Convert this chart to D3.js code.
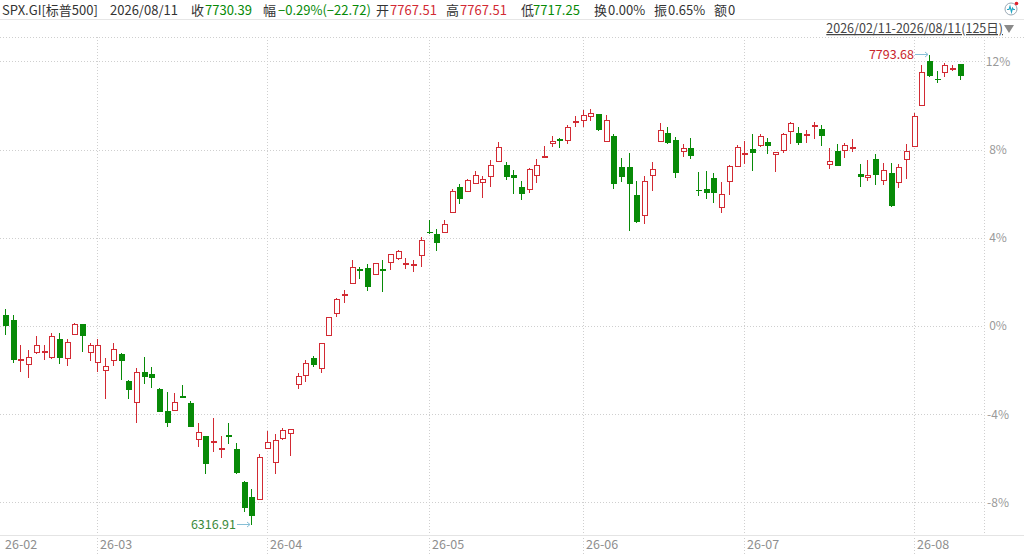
<!DOCTYPE html>
<html>
<head>
<meta charset="utf-8">
<script src="https://cdn.jsdelivr.net/npm/d3@7/dist/d3.min.js"></script>
<style>
  body { margin: 0; background: #fff; }
  text { font-family: "Microsoft YaHei", "Noto Sans CJK SC", sans-serif; }
</style>
</head>
<body>
<div id="chart"></div>
<script>
let width = 1024;
let height = 554;

// trading days per month (2026)
const febDays = [11, 12, 13, 17, 18, 19, 20, 23, 24, 25, 26, 27];
const marDays = [2, 3, 4, 5, 6, 9, 10, 11, 12, 13, 16, 17, 18, 19, 20, 23, 24, 25, 26, 27, 30, 31];
const aprDays = [1, 2, 6, 7, 8, 9, 10, 13, 14, 15, 16, 17, 20, 21, 22, 23, 24, 27, 28, 29, 30];
const mayDays = [1, 4, 5, 6, 7, 8, 11, 12, 13, 14, 15, 18, 19, 20, 21, 22, 26, 27, 28, 29];
const junDays = [1, 2, 3, 4, 5, 8, 9, 10, 11, 12, 15, 16, 17, 18, 22, 23, 24, 25, 26, 29, 30];
const julDays = [1, 2, 6, 7, 8, 9, 10, 13, 14, 15, 16, 17, 20, 21, 22, 23, 24, 27, 28, 29, 30, 31];
const augDays = [3, 4, 5, 6, 7, 10, 11];

const monthLabels = ["26-02", "26-03", "26-04", "26-05", "26-06", "26-07", "26-08"];
const pctTicks = [-8, -4, 0, 4, 8, 12];
const basePrice = 6942;

const opens = [6976.63, 6960.89, 6836.53, 6822.36, 6859.20, 6861.72, 6843.46, 6901.07, 6840.31, 6916.81,
  6947.35, 6859.20, 6827.72, 6803.47, 6832.75, 6852.90, 6769.79, 6701.79, 6798.12, 6790.88,
  6742.71, 6674.39, 6675.34, 6721.62, 6698.64, 6585.30, 6595.69, 6576.80, 6554.76, 6598.84,
  6554.76, 6451.81, 6402.70, 6396.40, 6556.96, 6512.89, 6588.45, 6604.19, 6758.45, 6787.73,
  6841.25, 6808.83, 6911.46, 6981.98, 7041.17, 7076.43, 7120.51, 7123.66, 7105.71, 7121.45,
  7141.29, 7155.14, 7138.77, 7135.62, 7165.53, 7237.94, 7230.70, 7236.98, 7299.96, 7378.67,
  7367.02, 7391.26, 7394.41, 7414.25, 7459.27, 7448.88, 7417.39, 7378.67, 7372.37, 7415.19,
  7474.06, 7515.94, 7530.73, 7525.38, 7584.25, 7588.35, 7600.94, 7608.50, 7522.23, 7541.12,
  7443.52, 7443.52, 7354.43, 7291.46, 7415.19, 7522.23, 7550.57, 7527.58, 7492.95, 7503.34,
  7369.22, 7373.32, 7408.89, 7315.70, 7397.56, 7443.52, 7485.08, 7499.25, 7509.64, 7521.29,
  7482.56, 7493.90, 7553.71, 7550.57, 7543.33, 7571.66, 7562.22, 7451.08, 7492.95, 7495.16,
  7502.40, 7421.49, 7410.15, 7468.71, 7399.45, 7422.75, 7394.41, 7466.82, 7508.69, 7635.57,
  7777.24, 7718.69, 7740.72, 7751.20, 7767.51];
const highs = [6994.58, 6976.63, 6882.18, 6866.44, 6910.52, 6882.18, 6919.02, 6919.02, 6901.07, 6952.39,
  6948.30, 6887.53, 6902.02, 6840.31, 6887.53, 6856.05, 6771.99, 6808.83, 6845.35, 6813.86,
  6745.86, 6735.16, 6730.12, 6756.25, 6705.88, 6635.67, 6597.10, 6653.30, 6595.69, 6635.67,
  6572.70, 6452.50, 6427.88, 6539.02, 6611.43, 6601.04, 6619.93, 6618.10, 6794.97, 6836.53,
  6847.55, 6889.42, 6971.28, 7029.21, 7055.34, 7149.79, 7126.81, 7137.19, 7141.29, 7149.79,
  7168.68, 7181.27, 7155.14, 7149.79, 7221.25, 7275.72, 7246.44, 7275.72, 7372.37, 7388.11,
  7404.80, 7429.99, 7414.25, 7464.62, 7520.34, 7459.27, 7433.13, 7398.50, 7438.49, 7467.77,
  7509.64, 7541.12, 7532.92, 7574.81, 7604.09, 7622.03, 7624.24, 7609.80, 7606.29, 7545.53,
  7471.86, 7485.71, 7399.45, 7415.19, 7459.27, 7582.05, 7569.46, 7537.97, 7514.99, 7532.92,
  7426.84, 7430.93, 7424.63, 7394.41, 7448.88, 7511.84, 7524.44, 7545.53, 7546.47, 7534.82,
  7489.00, 7550.57, 7583.31, 7567.57, 7559.07, 7585.20, 7574.81, 7501.45, 7514.05, 7519.08,
  7529.79, 7451.08, 7464.62, 7482.56, 7456.12, 7454.23, 7452.02, 7514.05, 7611.64, 7763.71,
  7793.68, 7745.76, 7770.95, 7764.80, 7767.51];
const lows = [6913.67, 6825.51, 6797.18, 6777.34, 6852.90, 6834.96, 6838.11, 6822.36, 6817.01, 6915.40,
  6861.09, 6832.75, 6798.12, 6712.17, 6816.07, 6771.99, 6712.17, 6637.56, 6759.40, 6745.86,
  6670.50, 6624.97, 6674.10, 6714.38, 6623.08, 6562.00, 6475.11, 6546.26, 6527.37, 6570.50,
  6476.05, 6355.47, 6316.91, 6393.50, 6555.20, 6476.05, 6583.09, 6533.67, 6742.71, 6766.64,
  6813.86, 6793.09, 6910.52, 6969.39, 7013.47, 7075.20, 7089.03, 7053.13, 7104.50, 7048.10,
  7118.30, 7149.79, 7120.51, 7112.95, 7128.69, 7233.22, 7178.12, 7235.50, 7298.40, 7325.15,
  7365.50, 7389.06, 7344.04, 7380.56, 7457.60, 7401.65, 7357.58, 7338.69, 7361.67, 7393.15,
  7469.97, 7506.49, 7503.34, 7514.05, 7567.57, 7569.46, 7587.40, 7556.86, 7520.80, 7372.37,
  7396.30, 7242.03, 7267.85, 7262.18, 7367.02, 7520.80, 7515.90, 7407.00, 7475.01, 7466.82,
  7351.28, 7340.89, 7328.30, 7298.70, 7354.43, 7442.10, 7452.02, 7430.93, 7506.49, 7482.56,
  7425.89, 7487.60, 7514.05, 7511.84, 7517.19, 7530.73, 7508.69, 7436.28, 7445.20, 7471.86,
  7490.75, 7380.56, 7399.45, 7385.91, 7385.91, 7317.59, 7375.52, 7403.86, 7507.20, 7634.00,
  7726.50, 7706.09, 7724.98, 7744.10, 7717.25];
const closes = [6942.00, 6834.96, 6838.11, 6843.46, 6879.98, 6863.29, 6910.52, 6840.31, 6890.68, 6948.30,
  6910.52, 6881.24, 6881.24, 6816.07, 6868.64, 6832.75, 6740.51, 6796.23, 6782.38, 6779.23,
  6672.19, 6635.67, 6700.53, 6716.27, 6624.97, 6607.34, 6506.59, 6578.37, 6556.33, 6593.48,
  6478.26, 6368.06, 6344.77, 6528.63, 6574.59, 6583.09, 6614.58, 6616.78, 6782.38, 6824.57,
  6819.22, 6887.53, 6969.39, 7026.06, 7042.75, 7126.81, 7114.21, 7065.73, 7139.40, 7114.21,
  7167.73, 7178.12, 7140.34, 7137.19, 7210.55, 7235.74, 7204.25, 7262.18, 7367.02, 7341.83,
  7401.65, 7417.39, 7403.86, 7448.88, 7504.60, 7412.04, 7408.89, 7357.58, 7436.28, 7448.88,
  7475.64, 7522.23, 7524.44, 7567.57, 7585.83, 7604.09, 7611.64, 7559.07, 7590.55, 7388.11,
  7410.15, 7389.06, 7270.37, 7398.50, 7435.34, 7559.07, 7517.19, 7424.63, 7501.45, 7478.16,
  7367.65, 7361.67, 7361.67, 7356.63, 7445.73, 7504.60, 7486.66, 7487.60, 7540.18, 7509.64,
  7487.60, 7546.47, 7580.16, 7519.08, 7544.90, 7573.23, 7540.18, 7459.27, 7446.67, 7511.84,
  7503.97, 7412.04, 7416.45, 7416.45, 7430.93, 7320.74, 7441.64, 7492.95, 7603.14, 7740.72,
  7729.08, 7716.48, 7763.71, 7753.11, 7730.39];

const pad = n => (n < 10 ? "0" : "") + n;
const monthDays = [["02", febDays], ["03", marDays], ["04", aprDays], ["05", mayDays],
  ["06", junDays], ["07", julDays], ["08", augDays]];
const dates = [];
const monthStarts = [];
monthDays.forEach(function (m) {
  monthStarts.push("2026-" + m[0] + "-" + pad(m[1][0]));
  m[1].forEach(d => dates.push("2026-" + m[0] + "-" + pad(d)));
});

const candles = dates.map((d, i) => ({ date: d, o: opens[i], h: highs[i], l: lows[i], c: closes[i] }));

const RED = "#d22a33", GREEN = "#078a07", GRID = "#cfcfcf";
const plotTop = 37, plotBottom = 535, plotRight = 984;

let svg = d3.select("#chart").append("svg")
  .attr("width", width)
  .attr("height", height)
  .style("display", "block");

let x = d3.scaleBand().domain(dates).range([1.15, 963.65]);
let cx = d => Math.round(x(d) + x.step() / 2);

// percent scale, 0% = basePrice
let y = d3.scaleLinear().domain([-9.478, 13.107]).range([plotBottom, plotTop]);
let py = p => y((p / basePrice - 1) * 100);

// header
svg.append("line").attr("x1", 0).attr("x2", width).attr("y1", 19.5).attr("y2", 19.5)
  .attr("stroke", "#e6e6e6");

let last = candles[candles.length - 1];
let prev = candles[candles.length - 2].c;
let chg = last.c - prev;
let fmt2 = d3.format(".2f");
let header = [
  { x: 2, t: "SPX.GI[标普500]", c: "#333" },
  { x: 110, t: last.date.replace(/-/g, "/"), c: "#333" },
  { x: 191, t: "收", c: "#333" }, { x: 205, t: fmt2(last.c), c: last.c >= prev ? RED : GREEN },
  { x: 263, t: "幅", c: "#333" }, { x: 278, t: fmt2(chg / prev * 100) + "%(" + fmt2(chg) + ")", c: chg >= 0 ? RED : GREEN },
  { x: 376, t: "开", c: "#333" }, { x: 390, t: fmt2(last.o), c: last.o >= prev ? RED : GREEN },
  { x: 446, t: "高", c: "#333" }, { x: 460, t: fmt2(last.h), c: last.h >= prev ? RED : GREEN },
  { x: 521, t: "低", c: "#333" }, { x: 533, t: fmt2(last.l), c: last.l >= prev ? RED : GREEN },
  { x: 594, t: "换", c: "#333" }, { x: 608, t: "0.00%", c: "#333" },
  { x: 654, t: "振", c: "#333" }, { x: 668, t: fmt2((last.h - last.l) / prev * 100) + "%", c: "#333" },
  { x: 714, t: "额", c: "#333" }, { x: 728, t: "0", c: "#333" }
];
svg.append("g").selectAll("text").data(header).enter().append("text")
  .attr("x", d => d.x).attr("y", 15)
  .attr("font-size", 13)
  .attr("fill", d => d.c)
  .text(d => d.t);

// top-right icon
let icon = svg.append("g").attr("transform", "translate(1011,9)");
icon.append("circle").attr("r", 6).attr("fill", "#fff").attr("stroke", "#9aa8b4").attr("stroke-width", 1);
icon.append("path").attr("d", "M-4,0.5 L-2,0.5 L-1,-2.5 L0.5,3 L1.5,-1 L2.5,0.5 L4,0.5")
  .attr("fill", "none").attr("stroke", "#23a6c4").attr("stroke-width", 1.1);
icon.append("circle").attr("cx", 5.5).attr("cy", -5.5).attr("r", 1.8).attr("fill", "#e0202a");

// date range
let rangeText = dates[0].replace(/-/g, "/") + "-" + last.date.replace(/-/g, "/") + "(" + dates.length + "日)";
svg.append("text").attr("x", 1003).attr("y", 33).attr("text-anchor", "end")
  .attr("font-size", 12.5).attr("fill", "#444")
  .attr("text-decoration", "underline")
  .text(rangeText);
svg.append("path").attr("d", "M1004,25 L1014,25 L1009,33 Z").attr("fill", "#8a8a8a");

// grid
svg.append("line").attr("x1", 0).attr("x2", width).attr("y1", plotTop + 0.5).attr("y2", plotTop + 0.5)
  .attr("stroke", GRID).attr("stroke-dasharray", "1,2");
svg.append("g").selectAll("line").data(pctTicks).enter().append("line")
  .attr("x1", 0).attr("x2", plotRight)
  .attr("y1", d => Math.round(y(d)) + 0.5).attr("y2", d => Math.round(y(d)) + 0.5)
  .attr("stroke", GRID).attr("stroke-dasharray", "1,2");
svg.append("g").selectAll("line").data(monthStarts.slice(1)).enter().append("line")
  .attr("x1", d => cx(d) + 0.5).attr("x2", d => cx(d) + 0.5)
  .attr("y1", plotTop).attr("y2", height)
  .attr("stroke", GRID).attr("stroke-dasharray", "1,2");
svg.append("line").attr("x1", plotRight + 0.5).attr("x2", plotRight + 0.5)
  .attr("y1", plotTop).attr("y2", plotBottom)
  .attr("stroke", GRID).attr("stroke-dasharray", "1,2");
svg.append("line").attr("x1", 0).attr("x2", width).attr("y1", plotBottom + 0.5).attr("y2", plotBottom + 0.5)
  .attr("stroke", "#e4e4e4");

// axes
let yAxis = d3.axisRight(y).tickValues(pctTicks).tickFormat(d => d + "%").tickSize(0);
let gy = svg.append("g").attr("transform", "translate(988,0)").call(yAxis);
gy.select(".domain").remove();
gy.selectAll("text").attr("x", 10).attr("text-anchor", "middle")
  .attr("font-size", 12).attr("fill", "#9a9a9a")
  .style("font-family", "'Microsoft YaHei','Noto Sans CJK SC',sans-serif");

let xAxis = d3.axisBottom(x).tickValues(monthStarts).tickFormat((d, i) => monthLabels[i]).tickSize(0);
let gx = svg.append("g").attr("transform", "translate(0," + plotBottom + ")").call(xAxis);
gx.select(".domain").remove();
gx.selectAll(".tick").attr("transform", d => "translate(" + cx(d) + ",0)");
gx.selectAll("text").attr("x", (d, i) => i === 0 ? 0 : 3).attr("y", 14).attr("dy", null)
  .attr("text-anchor", "start")
  .attr("font-size", 12.5).attr("fill", "#8e8e8e")
  .style("font-family", "'Microsoft YaHei','Noto Sans CJK SC',sans-serif");

// candles
let g = svg.append("g").attr("shape-rendering", "crispEdges");
candles.forEach(function (d) {
  let up = d.c >= d.o;
  let col = up ? RED : GREEN;
  let xc = cx(d.date);
  g.append("line")
    .attr("x1", xc + 0.5).attr("x2", xc + 0.5)
    .attr("y1", py(d.h)).attr("y2", py(d.l))
    .attr("stroke", col).attr("stroke-width", 1);
  let top = py(Math.max(d.o, d.c));
  let bot = py(Math.min(d.o, d.c));
  let hgt = Math.max(1, bot - top);
  if (up) {
    g.append("rect")
      .attr("x", xc - 2).attr("y", top)
      .attr("width", 5).attr("height", hgt)
      .attr("fill", "#fff").attr("stroke", col).attr("stroke-width", 1);
  } else {
    g.append("rect")
      .attr("x", xc - 2.5).attr("y", top)
      .attr("width", 6).attr("height", hgt)
      .attr("fill", col);
  }
});

// max / min markers
let hiIdx = d3.maxIndex(candles, d => d.h);
let loIdx = d3.minIndex(candles, d => d.l);
[[hiIdx, candles[hiIdx].h, "#c9252c"], [loIdx, candles[loIdx].l, "#3b8a3b"]].forEach(function (m) {
  let xc = cx(candles[m[0]].date);
  let yy = Math.round(py(m[1])) - 0.5;
  svg.append("path")
    .attr("d", "M" + (xc - 14) + "," + yy + "L" + (xc - 1) + "," + yy + "M" + (xc - 4) + "," + (yy - 2.5) + "L" + (xc - 1) + "," + yy + "L" + (xc - 4) + "," + (yy + 2.5))
    .attr("fill", "none").attr("stroke", "#86bfd6").attr("stroke-width", 1);
  svg.append("text")
    .attr("x", xc - 15).attr("y", yy)
    .attr("dy", "0.35em")
    .attr("text-anchor", "end")
    .attr("font-size", 12.5)
    .attr("fill", m[2])
    .text(fmt2(m[1]));
});
</script>
</body>
</html>
